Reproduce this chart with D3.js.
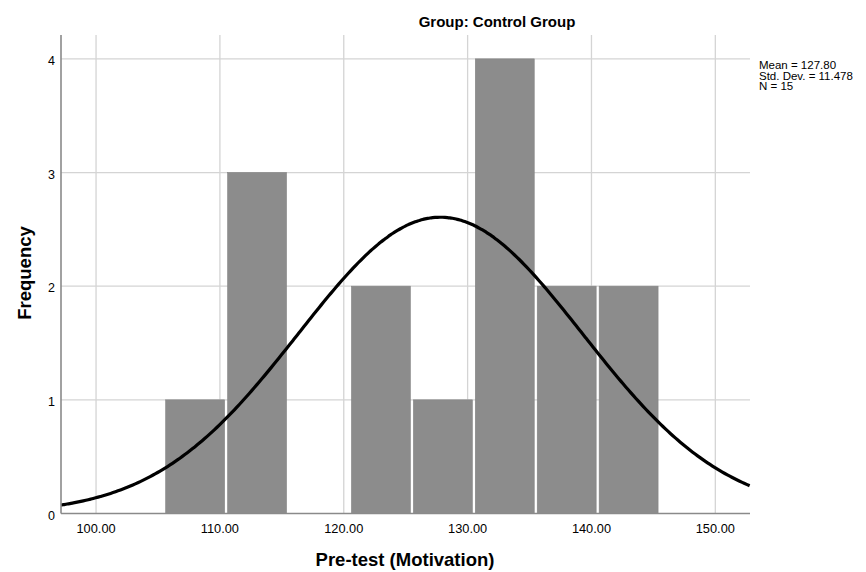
<!DOCTYPE html>
<html>
<meta charset="utf-8">
<head>
  <script src="https://d3js.org/d3.v7.min.js"></script>
  <style>
    body { margin: 0; background: #fff; }
    text { font-family: Arial, "Liberation Sans", sans-serif; fill: #000; }
  </style>
</head>
<body>
<svg id="chart" width="866" height="572"></svg>
<script>
  // histogram bins (lower edge), counts, fitted normal stats
  var binStarts = [105.5, 110.5, 115.5, 120.5, 125.5, 130.5, 135.5, 140.5];
  var binWidth = 5;
  var counts = [1, 3, 0, 2, 1, 4, 2, 2];
  var xTicks = [100, 110, 120, 130, 140, 150];
  var yTicks = [0, 1, 2, 3, 4];
  var stats = ["Mean = 127.80", "Std. Dev. = 11.478", "N = 15"];
  var mean = 127.80, sd = 11.478, n = 15;

  var svg = d3.select("#chart");
  var plotL = 61, plotR = 750, plotT = 35, plotB = 513.5;

  var x = d3.scaleLinear().domain([97.17, 152.8]).range([plotL, plotR]);
  var y = d3.scaleLinear().domain([0, 4.21]).range([plotB, plotT]);

  // grid lines
  svg.append("g").selectAll("line").data(xTicks).enter().append("line")
    .attr("x1", d => x(d)).attr("x2", d => x(d))
    .attr("y1", plotT).attr("y2", plotB)
    .attr("stroke", "#d4d4d4").attr("stroke-width", 1.3);
  svg.append("g").selectAll("line").data(yTicks.filter(d => d > 0)).enter().append("line")
    .attr("x1", plotL).attr("x2", plotR)
    .attr("y1", d => y(d)).attr("y2", d => y(d))
    .attr("stroke", "#d4d4d4").attr("stroke-width", 1.3);

  // bars
  var bins = binStarts.map((b, i) => ({x0: b, x1: b + binWidth, count: counts[i]}));
  svg.append("g").selectAll("rect").data(bins.filter(d => d.count > 0)).enter().append("rect")
    .attr("x", d => x(d.x0) + 1.5)
    .attr("width", d => x(d.x1) - x(d.x0) - 3)
    .attr("y", d => y(d.count))
    .attr("height", d => y(0) - y(d.count))
    .attr("fill", "#8c8c8c")
    .attr("stroke", "#848484").attr("stroke-width", 0.6);

  // normal curve
  var scale = n * binWidth / (sd * Math.sqrt(2 * Math.PI));
  var pts = d3.range(97.17, 152.81, 0.2).map(v => [v, scale * Math.exp(-0.5 * Math.pow((v - mean) / sd, 2))]);
  svg.append("path").datum(pts)
    .attr("d", d3.line().x(d => x(d[0])).y(d => y(d[1])).curve(d3.curveBasis))
    .attr("fill", "none").attr("stroke", "#000").attr("stroke-width", 3.2);

  // axes lines
  svg.append("line").attr("x1", plotL).attr("x2", plotL).attr("y1", plotT).attr("y2", plotB)
    .attr("stroke", "#8a8a8a").attr("stroke-width", 1.6);
  svg.append("line").attr("x1", plotL).attr("x2", plotR).attr("y1", plotB).attr("y2", plotB)
    .attr("stroke", "#8a8a8a").attr("stroke-width", 1.6);

  // tick labels
  svg.append("g").selectAll("text").data(xTicks).enter().append("text")
    .attr("x", d => x(d)).attr("y", 533)
    .attr("text-anchor", "middle").style("font-size", "12.8px")
    .text(d => d.toFixed(2));
  svg.append("g").selectAll("text").data(yTicks).enter().append("text")
    .attr("x", 55).attr("y", d => y(d) + 6)
    .attr("text-anchor", "end").style("font-size", "12.5px")
    .text(d => d);

  // titles
  svg.append("text").attr("x", 497).attr("y", 27).attr("text-anchor", "middle")
    .style("font-size", "15px").style("font-weight", "bold").text("Group: Control Group");
  svg.append("text").attr("x", 405).attr("y", 566).attr("text-anchor", "middle")
    .style("font-size", "18.5px").style("font-weight", "bold").text("Pre-test (Motivation)");
  svg.append("text").attr("transform", "translate(31,273) rotate(-90)").attr("text-anchor", "middle")
    .style("font-size", "18.5px").style("font-weight", "bold").text("Frequency");

  // stats legend
  svg.append("g").selectAll("text").data(stats).enter().append("text")
    .attr("x", 759).attr("y", (d, i) => 69 + i * 10.5)
    .style("font-size", "11.5px").text(d => d);
</script>
</body>
</html>
